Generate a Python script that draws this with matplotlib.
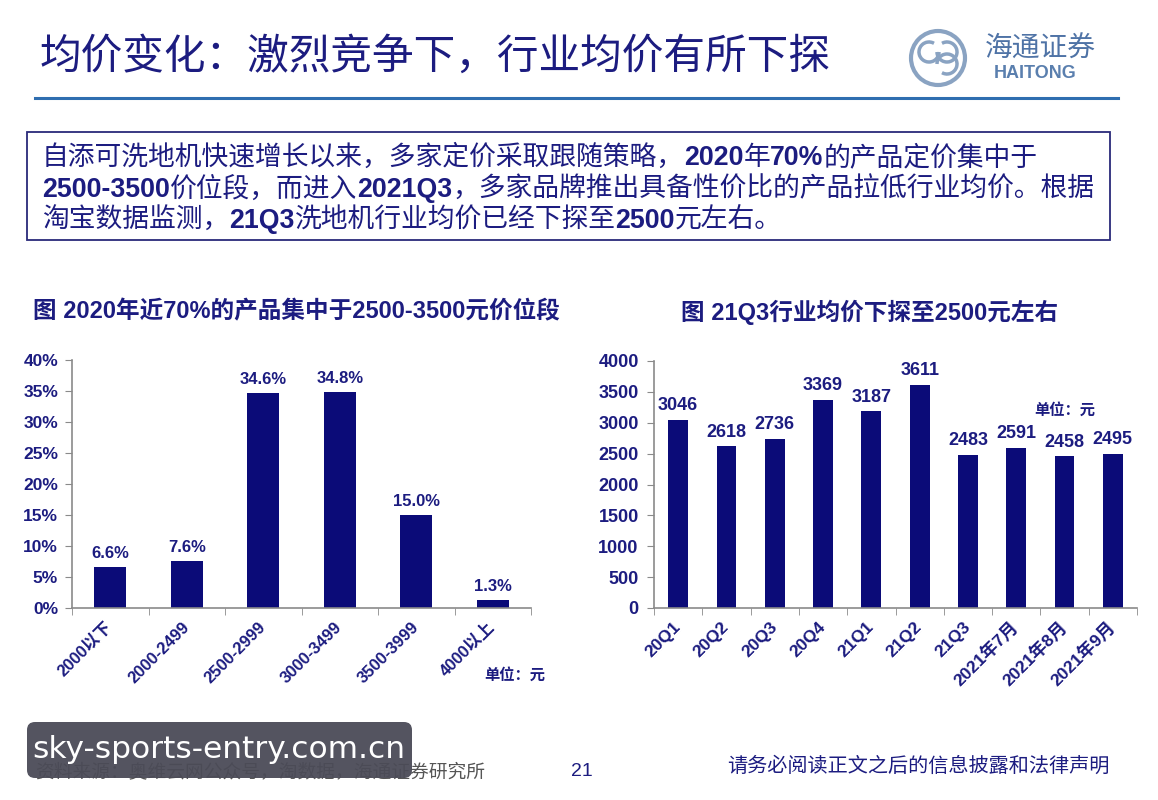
import matplotlib
matplotlib.use("Agg")
from matplotlib import pyplot as plt
from matplotlib.patches import Rectangle, FancyBboxPatch, Circle, Arc

plt.rcParams['font.family'] = ['Liberation Sans', 'Noto Sans CJK SC', 'DejaVu Sans']

# ---- data ----
price_bands = ["2000以下", "2000-2499", "2500-2999", "3000-3499", "3500-3999", "4000以上"]
band_share = [6.6, 7.6, 34.6, 34.8, 15.0, 1.3]

periods = ["20Q1", "20Q2", "20Q3", "20Q4", "21Q1", "21Q2", "21Q3",
           "2021年7月", "2021年8月", "2021年9月"]
avg_price = [3046, 2618, 2736, 3369, 3187, 3611, 2483, 2591, 2458, 2495]

NAVY = "#1c1c80"
BAR = "#0b0b78"
W, H = 1158, 800

fig = plt.figure(figsize=(W / 100, H / 100), dpi=100)
fig.patch.set_facecolor("white")

# full-figure overlay in pixel coords for page decorations
page = fig.add_axes([0, 0, 1, 1], zorder=-1)
page.set_xlim(0, W)
page.set_ylim(H, 0)
page.axis("off")

# header
page.text(40, 57, "均价变化：激烈竞争下，行业均价有所下探", fontsize=30,
          color=NAVY, va="center", ha="left", family=['Noto Sans CJK SC'])
page.plot([35, 1118], [98, 98], color="#2f6eb0", lw=2.2)

# logo
page.add_patch(Circle((938, 58), 27, fill=False, ec="#8aa3c2", lw=3))
page.add_patch(Arc((929, 52), 20, 20, theta1=0, theta2=300, ec="#8aa3c2", lw=2.5))
page.add_patch(Arc((947, 64), 20, 20, theta1=180, theta2=120, ec="#8aa3c2", lw=2.5))
page.add_patch(Arc((947, 52), 20, 20, theta1=240, theta2=180, ec="#8aa3c2", lw=2.5))
page.text(1040, 49, "海通证券", fontsize=20, color="#4f73a6", ha="center", va="center",
          family=['Noto Sans CJK SC'], style="italic")
page.text(1035, 74, "HAITONG", fontsize=13, color="#5a7fae", ha="center", va="center",
          weight="bold")

# summary box
page.add_patch(Rectangle((27, 132), 1083, 108, fill=False, ec="#2a2a7a", lw=1.3))


def run_line(x, y, parts, size):
    prev = None
    for s, bold in parts:
        kw = dict(fontsize=size, color=NAVY, weight="bold" if bold else "normal",
                  va="baseline", ha="left",
                  family=['Liberation Sans', 'Noto Sans CJK SC'])
        if prev is None:
            prev = page.text(x, y, s, **kw)
        else:
            prev = page.annotate(s, xy=(1, 0), xycoords=prev, **kw)
            prev.set_va("bottom")


run_line(42, 165, [("自添可洗地机快速增长以来，多家定价采取跟随策略，", False),
                   ("2020", True), ("年", False), ("70%", True),
                   ("的产品定价集中于", False)], 19.3)
run_line(42, 197, [("2500-3500", True), ("价位段，而进入", False), ("2021Q3", True),
                   ("，多家品牌推出具备性价比的产品拉低行业均价。根据", False)], 19.3)
run_line(42, 228, [("淘宝数据监测，", False), ("21Q3", True), ("洗地机行业均价已经下探至", False),
                   ("2500", True), ("元左右。", False)], 19.3)

# chart titles
page.text(33, 312, "图 2020年近70%的产品集中于2500-3500元价位段", fontsize=17,
          color=NAVY, weight="bold", va="center", ha="left")
page.text(870, 312, "图 21Q3行业均价下探至2500元左右", fontsize=17,
          color=NAVY, weight="bold", va="center", ha="center")


def style_axes(ax, n, ylab, ypad):
    for side in ("top", "right"):
        ax.spines[side].set_visible(False)
    for side in ("left", "bottom"):
        ax.spines[side].set_color("#8a8a8a")
        ax.spines[side].set_linewidth(1.2)
    ax.set_xlim(-0.5, n - 0.5)
    ax.set_xticks(range(n))
    ax.set_xticks([i - 0.5 for i in range(n + 1)], minor=True)
    ax.tick_params(axis="x", which="major", length=0, pad=12)
    ax.tick_params(axis="x", which="minor", length=5, color="#8a8a8a", direction="out")
    ax.tick_params(axis="y", length=5, color="#8a8a8a", direction="out",
                   labelsize=ylab, labelcolor=NAVY, pad=ypad)
    for lab in ax.get_yticklabels():
        lab.set_fontweight("bold")


# left chart
ax1 = fig.add_axes([72 / W, (H - 608) / H, (531 - 72) / W, (608 - 360) / H])
ax1.bar(range(len(band_share)), band_share, width=0.42, color=BAR)
ax1.set_ylim(0, 40)
ax1.set_yticks(range(0, 41, 5))
ax1.set_yticklabels(["%d%%" % v for v in range(0, 41, 5)])
style_axes(ax1, len(band_share), 12.5, 5)
ax1.set_xticklabels(price_bands, rotation=45, ha="right", va="center",
                    rotation_mode="anchor", fontsize=12, color=NAVY, weight="bold")
for i, v in enumerate(band_share):
    ax1.text(i, v + 1.0, "%.1f%%" % v, ha="center", va="bottom", fontsize=12,
             color=NAVY, weight="bold")
ax1.text(1.03, -0.27, "单位：元", transform=ax1.transAxes, ha="right", va="center",
         fontsize=11, color=NAVY, weight="bold")

# right chart
ax2 = fig.add_axes([654 / W, (H - 608) / H, (1137 - 654) / W, (608 - 361) / H])
ax2.bar(range(len(avg_price)), avg_price, width=0.41, color=BAR)
ax2.set_ylim(0, 4000)
ax2.set_yticks(range(0, 4001, 500))
style_axes(ax2, len(avg_price), 13, 6)
ax2.set_xticklabels(periods, rotation=45, ha="right", va="center",
                    rotation_mode="anchor", fontsize=12.5, color=NAVY, weight="bold")
for i, v in enumerate(avg_price):
    ax2.text(i, v + 90, "%d" % v, ha="center", va="bottom", fontsize=13,
             color=NAVY, weight="bold")
ax2.text(0.85, 0.80, "单位：元", transform=ax2.transAxes, ha="center", va="center",
         fontsize=11, color=NAVY, weight="bold")

# footer
page.text(35, 772, "资料来源：奥维云网公众号，淘数据，海通证券研究所", fontsize=13.5,
          color="#555555", va="center", ha="left", family=['Noto Sans CJK SC'])
page.text(582, 772, "21", fontsize=14, color=NAVY, va="center", ha="center")
page.text(1110, 766, "请务必阅读正文之后的信息披露和法律声明", fontsize=14.5,
          color=NAVY, va="center", ha="right", family=['Noto Sans CJK SC'])

# watermark overlay
mark = fig.add_axes([0, 0, 1, 1], zorder=10)
mark.set_xlim(0, W)
mark.set_ylim(H, 0)
mark.axis("off")
mark.add_patch(FancyBboxPatch((27, 722), 385, 56, boxstyle="round,pad=0,rounding_size=8",
                              fc="#4b4b57", ec="none", alpha=0.95))
mark.text(219, 750, "sky-sports-entry.com.cn", fontsize=22.5, color="white",
          ha="center", va="center", family=['DejaVu Sans'])

fig.savefig("out.png", dpi=100)
